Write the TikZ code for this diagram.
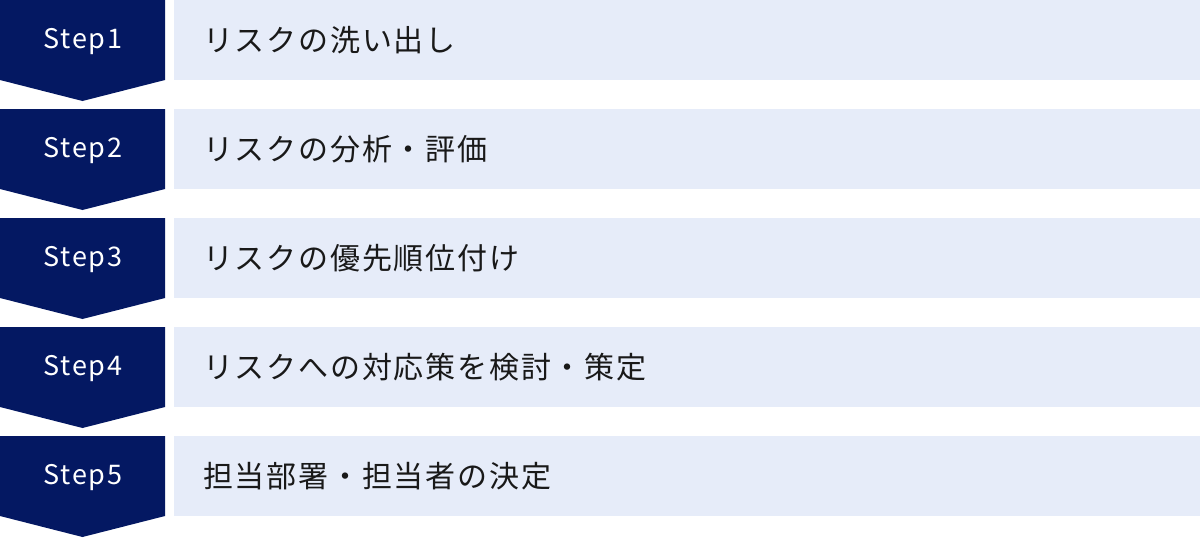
\documentclass[tikz,border=0pt]{standalone}
\usepackage{fontspec}
\setmainfont{Noto Sans CJK JP}
\newfontfamily\jpfont[LetterSpace=6]{Noto Sans CJK JP}
\newfontfamily\stepfont[LetterSpace=6]{Noto Sans CJK JP}
\definecolor{stepnavy}{HTML}{041862}
\definecolor{rowblue}{HTML}{E6ECF9}
\begin{document}
\begin{tikzpicture}[x=1pt, y=-1pt,
        steplabel/.style={text=white, font=\stepfont\fontsize{27}{30}\selectfont, inner sep=0pt},
        rowlabel/.style={anchor=west, text=black!90, font=\jpfont\fontsize{30}{32}\selectfont, inner sep=0pt}]
    \useasboundingbox (0, 0) rectangle (1200, 538);
        \fill[stepnavy](0, 0) -- (165, 0) -- (165, 80) -- (82.5, 101) -- (0, 80) -- cycle;
            \node[steplabel] (s1) at (83, 42){Step1};
        \fill[rowblue](174, 0) rectangle (1200, 80);
            \node[rowlabel] (r1) at (203, 40){リスクの洗い出し};
        \fill[stepnavy](0, 109) -- (165, 109) -- (165, 189) -- (82.5, 210) -- (0, 189) -- cycle;
            \node[steplabel] (s2) at (83, 151){Step2};
        \fill[rowblue](174, 109) rectangle (1200, 189);
            \node[rowlabel] (r2) at (203, 149){リスクの分析・評価};
        \fill[stepnavy](0, 218) -- (165, 218) -- (165, 298) -- (82.5, 319) -- (0, 298) -- cycle;
            \node[steplabel] (s3) at (83, 260){Step3};
        \fill[rowblue](174, 218) rectangle (1200, 298);
            \node[rowlabel] (r3) at (203, 258){リスクの優先順位付け};
        \fill[stepnavy](0, 327) -- (165, 327) -- (165, 407) -- (82.5, 428) -- (0, 407) -- cycle;
            \node[steplabel] (s4) at (83, 369){Step4};
        \fill[rowblue](174, 327) rectangle (1200, 407);
            \node[rowlabel] (r4) at (203, 367){リスクへの対応策を検討・策定};
        \fill[stepnavy](0, 436) -- (165, 436) -- (165, 516) -- (82.5, 537) -- (0, 516) -- cycle;
            \node[steplabel] (s5) at (83, 478){Step5};
        \fill[rowblue](174, 436) rectangle (1200, 516);
            \node[rowlabel] (r5) at (203, 476){担当部署・担当者の決定};
\end{tikzpicture}
\end{document}
